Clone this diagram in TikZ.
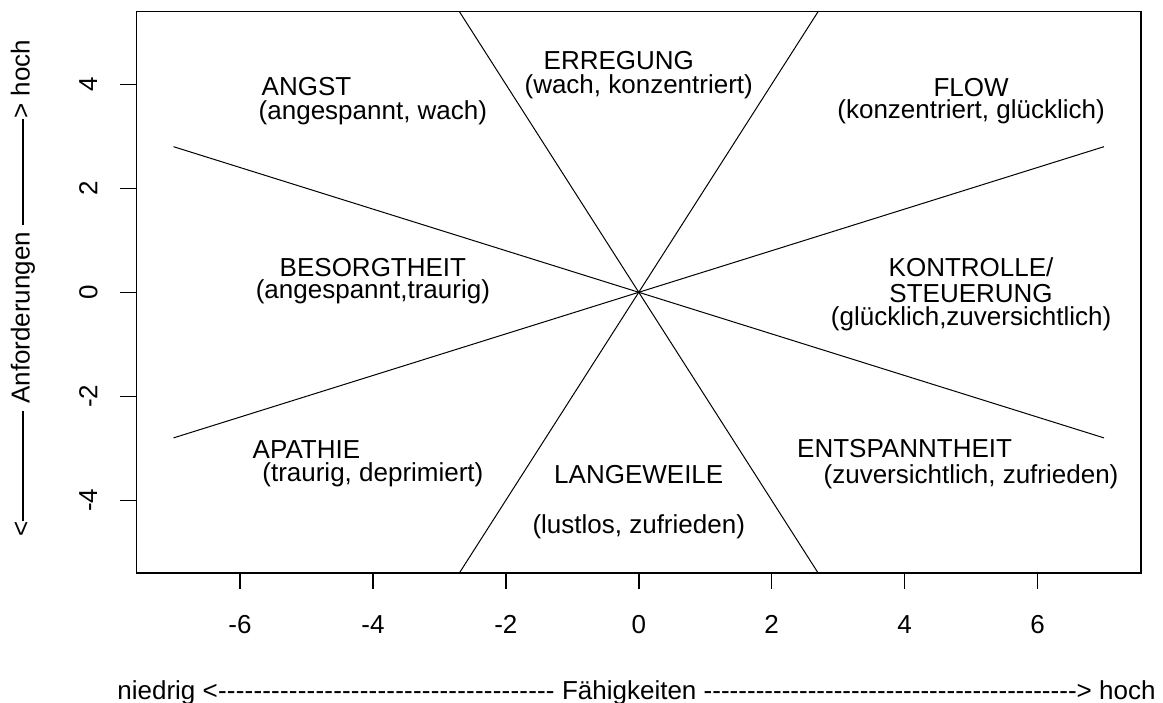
\documentclass[tikz,border=0pt]{standalone}
\usepackage{fontspec}
\setmainfont{Liberation Sans}
\newcommand\hyphenrun[1]{\hbox to #1{\xleaders\hbox{-}\hfill}}
\begin{document}
\begin{tikzpicture}
    [x=33.23pt,y=26pt,font=\fontsize{13}{15}\selectfont,
     zone/.style={inner sep=0pt},
     divider/.style={line width=0.5pt},
     frame/.style={line width=0.75pt},
     xnum/.style={inner sep=0pt,yshift=-17.5pt},
     ynum/.style={inner sep=0pt,xshift=-16pt,rotate=90}]
    \useasboundingbox (-9.611,-7.898) rectangle (7.888,5.621);
    \coordinate (wa) at (-7,2.8);
    \coordinate (ea) at (7,-2.8);
    \coordinate (wb) at (-7,-2.8);
    \coordinate (eb) at (7,2.8);
    \coordinate (sa) at (-2.7,-5.4);
    \coordinate (na) at (2.7,5.4);
    \coordinate (sb) at (2.7,-5.4);
    \coordinate (nb) at (-2.7,5.4);
    \draw [divider] (wa) -- (ea);
    \draw [divider] (wb) -- (eb);
    \draw [divider] (sa) -- (na);
    \draw [divider] (sb) -- (nb);
    \draw [frame] (-7.56,-5.4) rectangle (7.56,5.4);
    \draw [frame] (-6,-5.4) -- ++(0,-8pt) node [xnum] (xm6) {-6};
    \draw [frame] (-4,-5.4) -- ++(0,-8pt) node [xnum] (xm4) {-4};
    \draw [frame] (-2,-5.4) -- ++(0,-8pt) node [xnum] (xm2) {-2};
    \draw [frame] (0,-5.4) -- ++(0,-8pt) node [xnum] (x0) {0};
    \draw [frame] (2,-5.4) -- ++(0,-8pt) node [xnum] (x2) {2};
    \draw [frame] (4,-5.4) -- ++(0,-8pt) node [xnum] (x4) {4};
    \draw [frame] (6,-5.4) -- ++(0,-8pt) node [xnum] (x6) {6};
    \draw [frame] (-7.56,-4) -- ++(-8pt,0) node [ynum] (ym4) {-4};
    \draw [frame] (-7.56,-2) -- ++(-8pt,0) node [ynum] (ym2) {-2};
    \draw [frame] (-7.56,0) -- ++(-8pt,0) node [ynum] (y0) {0};
    \draw [frame] (-7.56,2) -- ++(-8pt,0) node [ynum] (y2) {2};
    \draw [frame] (-7.56,4) -- ++(-8pt,0) node [ynum] (y4) {4};
    \node [zone] (angst) at (-5,3.96) {ANGST};
    \node [zone] (angstsub) at (-4,3.45) {(angespannt, wach)};
    \node [zone] (erregung) at (-0.3,4.45) {ERREGUNG};
    \node [zone] (erregungsub) at (0,3.95) {(wach, konzentriert)};
    \node [zone] (flow) at (5,3.94) {FLOW};
    \node [zone] (flowsub) at (5,3.48) {(konzentriert, glücklich)};
    \node [zone] (besorgt) at (-4,0.48) {BESORGTHEIT};
    \node [zone] (besorgtsub) at (-4,0.01) {(angespannt,traurig)};
    \node [zone] (kontrolle) at (5,0.49) {KONTROLLE/};
    \node [zone] (steuerung) at (5,-0.03) {STEUERUNG};
    \node [zone] (kontrollesub) at (5,-0.5) {(glücklich,zuversichtlich)};
    \node [zone] (apathie) at (-5,-3.02) {APATHIE};
    \node [zone] (apathiesub) at (-4,-3.5) {(traurig, deprimiert)};
    \node [zone] (langeweile) at (0,-3.51) {LANGEWEILE};
    \node [zone] (langeweilesub) at (0,-4.5) {(lustlos, zufrieden)};
    \node [zone] (entspannt) at (4,-3.0) {ENTSPANNTHEIT};
    \node [zone] (entspanntsub) at (5,-3.54) {(zuversichtlich, zufrieden)};
    \node [anchor=base,inner sep=0pt] (faehig) at (-0.034,-7.83)
      {niedrig <\hyphenrun{168.5pt} Fähigkeiten \hyphenrun{186.5pt}> hoch};
    \node [rotate=90,inner sep=0pt] (anford) at (-9.265,0.083)
      {<\rule[0.232em]{55pt}{0.068em} Anforderungen \rule[0.232em]{53pt}{0.068em}> hoch};
  \end{tikzpicture}
\end{document}
